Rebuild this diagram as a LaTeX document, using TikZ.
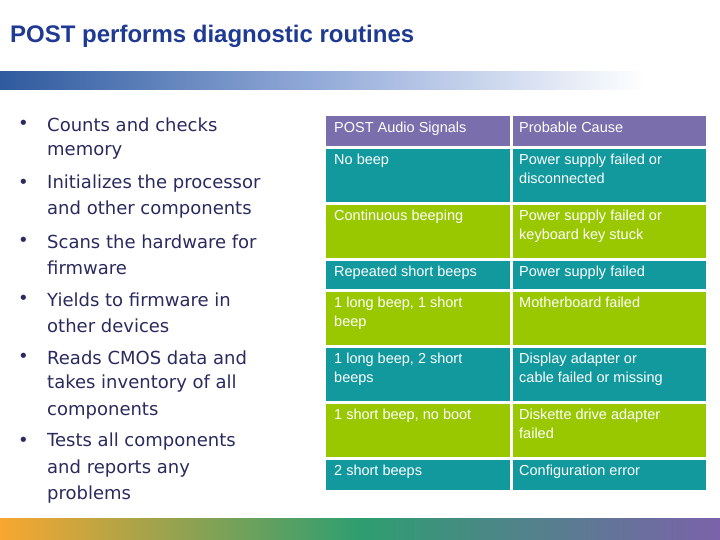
\documentclass[tikz,border=0pt]{standalone}
\usepackage{fontspec}
\setmainfont{Liberation Sans}
\newfontfamily\bulletfont{DejaVu Sans}
\usetikzlibrary{positioning}
\definecolor{titleblue}{HTML}{1F3A93}
\definecolor{bardark}{HTML}{2E5A9E}
\definecolor{barmid}{HTML}{9AB0DC}
\definecolor{headpurple}{HTML}{7A6EAC}
\definecolor{rowteal}{HTML}{11999E}
\definecolor{rowlime}{HTML}{99C800}
\definecolor{textnavy}{HTML}{2A2A5E}
\definecolor{botorange}{HTML}{F8A730}
\definecolor{botgreen}{HTML}{2E9E70}
\definecolor{botpurple}{HTML}{7B62AA}
\tikzset{
  cell/.style={anchor=north west, inner sep=0pt, text=white, font=\fontsize{14.5}{19}\selectfont, align=left},
  bline/.style={anchor=west, inner sep=0pt, text=textnavy, font=\bulletfont\fontsize{18}{22}\selectfont},
}
\begin{document}
\begin{tikzpicture}[x=1pt,y=-1pt]
  \useasboundingbox (0,0) rectangle (720,540);
  % title and bars
  \node[anchor=base west, inner sep=0pt, text=titleblue, font=\bfseries\fontsize{24}{28}\selectfont] (title) at (10,43) {POST performs diagnostic routines};
  \shade[left color=bardark, right color=barmid] (0,72) rectangle (340,90);
  \shade[left color=barmid, right color=white] (340,72) rectangle (645,90);
  \shade[left color=botorange, right color=botgreen] (0,518) rectangle (360,540);
  \shade[left color=botgreen, right color=botpurple] (360,518) rectangle (720,540);
  % bullets
  \foreach \y in {125,184,242,300,358,442}
    \node[bline] at (18,\y) {•};
  \foreach \y/\t in {125/Counts and checks, 152/memory, 184/Initializes the processor,
      210/and other components, 242/Scans the hardware for, 268/firmware,
      300/Yields to firmware in, 326/other devices, 358/Reads CMOS data and,
      384/takes inventory of all, 411/components, 442/Tests all components,
      469/and reports any, 495/problems}
    \node[bline] at (47,\y) {\t};
  % table
  \fill[headpurple] (326,116) rectangle (510,146);
  \fill[headpurple] (513,116) rectangle (706,146);
  \node[cell] (h1) at (334,122) {POST Audio Signals};
  \node[cell] (h2) at (519,122) {Probable Cause};
  \foreach \ya/\yb/\rowcol/\sig/\cause in {
      149/202/rowteal/{No beep}/{Power supply failed or\\disconnected},
      205/258/rowlime/{Continuous beeping}/{Power supply failed or\\keyboard key stuck},
      261/289/rowteal/{Repeated short beeps}/{Power supply failed},
      292/345/rowlime/{1 long beep, 1 short\\beep}/{Motherboard failed},
      348/401/rowteal/{1 long beep, 2 short\\beeps}/{Display adapter or\\cable failed or missing},
      404/457/rowlime/{1 short beep, no boot}/{Diskette drive adapter\\failed},
      460/490/rowteal/{2 short beeps}/{Configuration error}} {
    \fill[\rowcol] (326,\ya) rectangle (510,\yb);
    \fill[\rowcol] (513,\ya) rectangle (706,\yb);
    \node[cell] at (334,\ya+5) {\sig};
    \node[cell] at (519,\ya+5) {\cause};
  }
\end{tikzpicture}
\end{document}
